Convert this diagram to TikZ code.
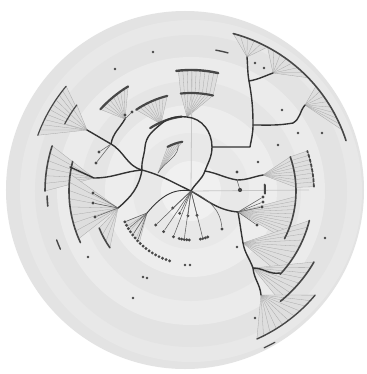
\documentclass[tikz,border=0pt]{standalone}
\usetikzlibrary{calc}
\tikzset{
  every picture/.style={line join=round},
  br/.style={draw=black!80, line width=1.4pt, line cap=round},
  tw/.style={draw=black!62, line width=0.55pt},
  lf/.style={draw=black!34, line width=0.3pt},
  fan/.style={fill=black!13},
  leafarc/.style={draw=black!72, line width=#1, line cap=round},
  leafarc/.default=2pt,
  dot/.style={circle, fill=black!72, inner sep=0pt, minimum size=3.2pt},
  axis/.style={draw=black!22, line width=0.8pt},
}
% hub, radius, from angle, to angle, number of lines
\newcommand{\leaffan}[5]{%
  \fill[fan] (#1) -- (#3:#2) arc[start angle=#3, end angle=#4, radius=#2bp] -- cycle;
  \foreach \k in {0,...,#5} \draw[lf] (#1) -- ({#3+((#4)-(#3))*\k/#5}:#2);
}
% inner radius, outer radius, from angle, to angle, number of lines
\newcommand{\leafband}[5]{%
  \fill[fan] (#3:#1) arc[start angle=#3, end angle=#4, radius=#1bp] -- (#4:#2) arc[start angle=#4, end angle=#3, radius=#2bp] -- cycle;
  \foreach \k in {0,...,#5} \draw[lf] ({#3+((#4)-(#3))*\k/#5}:#1) -- ({#3+((#4)-(#3))*\k/#5}:#2);
}
% radius, from angle, to angle, width
\newcommand{\leafring}[4]{%
  \draw[leafarc=#4] (#2:#1) arc[start angle=#2, end angle=#3, radius=#1bp];
}

\begin{document}
\begin{tikzpicture}[x=1bp, y=1bp]
  \useasboundingbox (-191,-183) rectangle (176,191);
  \fill[white] (-191,-183) rectangle (176,191);
  % background rings
  \fill[black!11] (-6,1) circle[radius=179bp];
  \fill[black!9] (0,0) circle[radius=171bp];
  \fill[black!11] (0,0) circle[radius=156bp];
  \fill[black!8] (0,0) circle[radius=134bp];
  \fill[black!10] (0,0) circle[radius=110bp];
  \fill[black!7] (0,0) circle[radius=86bp];
  \fill[black!9] (0,0) circle[radius=58bp];
  \fill[black!6] (0,0) circle[radius=30bp];

  % hubs
  \coordinate (root) at (0,0);
  \coordinate (lpa) at (14,20);
  \coordinate (lpb) at (21,44);
  \coordinate (lpt) at (-4,74);
  \coordinate (lpc) at (-30,67);
  \coordinate (lpd) at (-46,44);
  \coordinate (m1) at (-49,21);
  \coordinate (inh) at (-33,18);
  \coordinate (ul1) at (-80,47);
  \coordinate (ulh) at (-104,61);
  \coordinate (ul2) at (-66,72);
  \coordinate (m3) at (-97,13);
  \coordinate (lft) at (-121,24);
  \coordinate (h5) at (-73,-17);
  \coordinate (llh) at (-44,-22);
  \coordinate (ur1) at (59,44);
  \coordinate (ur2) at (62,66);
  \coordinate (ur3) at (58,110);
  \coordinate (ur4) at (56,134);
  \coordinate (ura) at (102,68);
  \coordinate (urah) at (114,86);
  \coordinate (urb) at (82,118);
  \coordinate (rm1) at (46,11);
  \coordinate (rmh) at (72,16);
  \coordinate (lrh) at (47,-21);
  \coordinate (lr2) at (52,-52);
  \coordinate (lr3) at (62,-77);
  \coordinate (lr3b) at (89,-82);
  \coordinate (lr4) at (70,-104);

  % fans
  \leaffan{lpt}{98}{77}{96}{9}
  \leafband{98}{121}{77}{96}{9}
  \leaffan{lpc}{98}{104}{124}{8}
  \leaffan{inh}{50}{100}{118}{5}
  \leaffan{ul2}{122}{121}{138}{8}
  \leaffan{ulh}{163}{140}{160}{10}
  \leaffan{ulh}{143}{143}{152}{4}
  \leaffan{m3}{146}{162}{180}{6}
  \leaffan{h5}{122}{172}{203}{8}
  \leaffan{h5}{99}{202}{215}{3}
  \leaffan{llh}{73}{205}{225}{5}
  \leaffan{rmh}{105}{2}{19}{8}
  \leafband{105}{123}{2}{19}{8}
  \leaffan{lrh}{105}{-27}{-3}{10}
  \leaffan{lr2}{122}{-43}{-14}{9}
  \leaffan{lr3}{142}{-51}{-30}{8}
  \leaffan{lr4}{162}{-66}{-40}{10}
  \leaffan{urah}{163}{22}{40}{8}
  \leaffan{urb}{163}{44}{62}{7}
  \leaffan{ur4}{163}{62}{75}{5}

  % axes
  \draw[axis] (root) -- (1,122);
  \draw[axis] (root) -- (118,1);

  % leaf arcs
  \leafring{98}{77}{96}{2.2pt}
  \leafring{121}{77}{97}{2.4pt}
  \leafring{98}{104}{124}{2.2pt}
  \leafring{50}{100}{118}{2.2pt}
  \leafring{75}{97}{123}{2.2pt}
  \leafring{122}{121}{138}{2.2pt}
  \leafring{163}{140}{160}{1.2pt}
  \leafring{143}{143}{152}{1.2pt}
  \leafring{146}{162}{180}{1.6pt}
  \leafring{144}{182}{186}{1.6pt}
  \leafring{143}{200}{204}{1.4pt}
  \leafring{122}{166}{205}{1.6pt}
  \leafring{99}{202}{215}{1.6pt}
  \leafring{105}{-27}{19}{1.6pt}
  \draw[leafarc=1.8pt, dash pattern=on 3pt off 2pt] (2:123) arc[start angle=2, end angle=19, radius=123bp];
  \leafring{74}{-2}{5}{2pt}
  \leafring{122}{-43}{-14}{1.6pt}
  \leafring{142}{-51}{-30}{1.6pt}
  \leafring{162}{-66}{-40}{1.4pt}
  \leafring{173}{-65}{-61}{1.2pt}
  \leafring{163}{18}{75}{1.6pt}
  \leafring{143}{75}{80}{1.4pt}

  % branches
  \draw[br] (root) to[out=60,in=-110] (lpa) to[out=70,in=-90] (lpb) to[out=90,in=-5] (lpt) to[out=175,in=40] (lpc) to[out=220,in=85] (lpd) to[out=265,in=95] (m1);
  \draw[br] (root) to[out=155,in=-15] (m1) to[out=165,in=-30] (ul1) to[out=150,in=-30] (ulh);
  \draw[br] (m1) to[out=185,in=0] (m3) -- (lft);
  \draw[br] (ul1) to[out=80,in=-120] (ul2);
  \draw[br] (m1) to[out=-100,in=40] (h5);
  \draw[tw] (inh) to[out=60,in=-80] (105:50);
  \draw[br, line width=0.9pt] (root) to[out=170,in=50] (llh);
  \draw[br] (lpb) -- (ur1) to[out=80,in=-90] (ur2) to[out=90,in=-80] (ur3) to[out=100,in=-85] (ur4);
  \draw[br] (ur2) to[out=0,in=190] (ura) to[out=30,in=-130] (urah);
  \draw[br] (ur3) to[out=10,in=200] (urb);
  \draw[br] (lpa) to[out=-10,in=170] (rm1) to[out=0,in=190] (rmh);
  \draw[br] (root) to[out=-30,in=175] (lrh) to[out=-80,in=100] (lr2) to[out=-80,in=110] (lr3) to[out=-85,in=95] (lr4);
  \draw[br] (lr3) to[out=0,in=190] (lr3b);

  % leaves
  \foreach \a [count=\i] in {223,243,263,284} {
    \node[dot] (nd\i) at (\a:25) {};
    \draw[tw] (root) -- (nd\i);
  }
  \foreach \a [count=\i] in {224,236,249,256,259,262,265,268,281,284,287,290} \node[dot] (bd\i) at (\a:49) {};
  \foreach \i in {1,2,3,6,10} \draw[tw] (root) -- (bd\i);
  \foreach \a [count=\i] in {205,208,...,253} \node[dot] (ld\i) at (\a:73) {};
  \foreach \i in {1,3,5,7} \draw[tw] (llh) -- (ld\i);
  \foreach \p [count=\i] in {(-98,-2),(-98,-12),(-96,-26)} {
    \node[dot] (hd\i) at \p {};
    \draw[tw] (h5) -- (hd\i);
  }
  \foreach \p [count=\i] in {(-92,39),(-95,28)} {
    \node[dot] (ud\i) at \p {};
    \draw[tw] (ul1) -- (ud\i);
  }
  \foreach \p [count=\i] in {(-66,76),(-59,79)} {
    \node[dot] (vd\i) at \p {};
    \draw[tw] (ul2) -- (vd\i);
  }
  \foreach \p [count=\i] in {(72,-6),(72,-11),(71,-16),(66,-34)} {
    \node[dot] (rd\i) at \p {};
    \draw[tw] (lrh) -- (rd\i);
  }
  \node[dot] (rq) at (46,19) {};
  \node[dot, minimum size=4.2pt] (rbig) at (49,1) {};
  \draw[tw] (rm1) -- (rbig);
  \node[dot] (dq) at (31,-38) {};
  \draw[tw] (root) to[out=-25,in=95] (dq);
  \foreach \p [count=\i] in {(-38,139),(-76,122),(64,128),(73,123),(107,58),(131,58),(87,46),(67,29),
      (91,81),(134,-47),(-48,-86),(-44,-87),(-58,-107),(-103,-66),(-6,-74),(-1,-74),(46,-56),(64,-127)}
    \node[dot, minimum size=2.8pt] (id\i) at \p {};
\end{tikzpicture}
\end{document}
